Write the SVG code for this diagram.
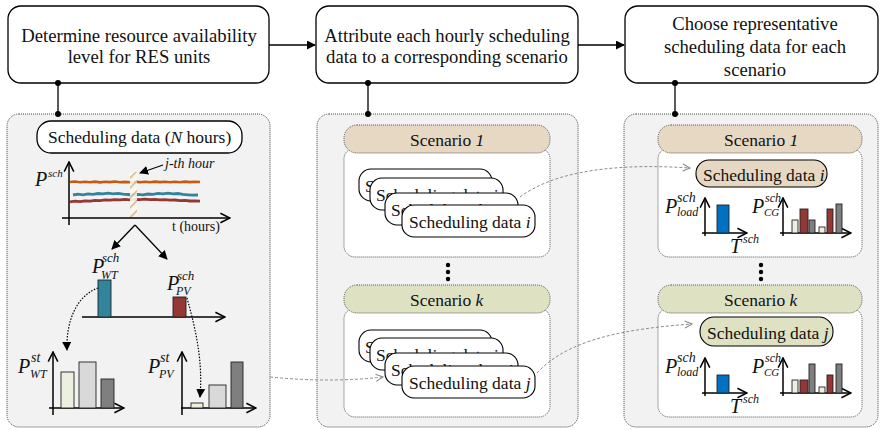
<svg xmlns="http://www.w3.org/2000/svg" width="881" height="430" viewBox="0 0 881 430">
<defs>
<style>
text{font-family:"Liberation Serif","Times New Roman",serif;fill:#111}
.t{font-size:18.7px;text-anchor:middle}
.m{font-size:17.5px}
.it{font-style:italic}
.box{fill:#fff;stroke:#000;stroke-width:1.3}
.panel{fill:#f2f2f2;stroke:#444;stroke-width:1;stroke-dasharray:1 1}
.hdr1{fill:#e6d8c2;stroke:#555;stroke-width:1;stroke-dasharray:1 1}
.hdrk{fill:#dee2c2;stroke:#555;stroke-width:1;stroke-dasharray:1 1}
.cont{fill:#fff;stroke:#555;stroke-width:1;stroke-dasharray:1 1}
.stk{fill:#fff;stroke:#000;stroke-width:1.1}
.ax{stroke:#000;stroke-width:1.5;fill:none;marker-end:url(#chev)}
.bar{stroke:#222;stroke-width:0.9}
.lg{fill:#ebf1de}.lgr{fill:#d9d9d9}.dg{fill:#7f7f7f}.rd{fill:#953735}.tl{fill:#31849b}.bl{fill:#0070c0}
.gd{fill:none;stroke:#8c8c8c;stroke-width:1;stroke-dasharray:3 2;marker-end:url(#gchev)}
.bd{fill:none;stroke:#000;stroke-width:1.2;stroke-dasharray:1.5 1.5;marker-end:url(#tri)}
.P{font-size:20px;font-style:italic}
.s{font-style:italic}
</style>
<marker id="tri" viewBox="0 0 10 10" refX="9" refY="5" markerWidth="9" markerHeight="9" markerUnits="userSpaceOnUse" orient="auto"><path d="M0,0 L10,5 L0,10 z" fill="#000"/></marker>
<marker id="chev" viewBox="0 0 10 10" refX="9" refY="5" markerWidth="12" markerHeight="12" markerUnits="userSpaceOnUse" orient="auto"><path d="M1,1 L9,5 L1,9" fill="none" stroke="#000" stroke-width="1.3"/></marker>
<marker id="gchev" viewBox="0 0 10 10" refX="9" refY="5" markerWidth="9" markerHeight="9" markerUnits="userSpaceOnUse" orient="auto"><path d="M1,1 L9,5 L1,9" fill="none" stroke="#8c8c8c" stroke-width="1.2"/></marker>
<pattern id="hatch" patternUnits="userSpaceOnUse" width="7" height="7" patternTransform="rotate(45)"><rect width="7" height="7" fill="#fbf7ef"/><line x1="0" y1="0" x2="0" y2="7" stroke="#c9ad7f" stroke-width="3"/></pattern>
</defs>

<!-- Panels -->
<g id="panel1">
<rect class="panel" x="7" y="114" width="263" height="313" rx="12"/>
<rect class="box" x="37" y="121" width="205" height="32" rx="14"/>
<text class="m" x="48" y="143">Scheduling data (<tspan class="it">N</tspan> hours)</text>
<g id="timeseries">
<polyline fill="none" stroke="#c55a11" stroke-width="2.6" points="70,182 75,181.5 80,182.3 85,181.7 90,182.2 95,181.6 100,182.4 105,181.8 110,182.1 115,181.5 120,182.3 125,181.9 130,182.2 135,181.6 140,182.3 145,181.8 150,182.2 155,181.6 160,182.1 165,181.7 170,182.3 175,181.8 180,182.2 185,181.6 190,182.1 195,181.8 200,182"/>
<polyline fill="none" stroke="#31849b" stroke-width="2.8" points="73,195 78,194.2 83,194.8 88,193.8 93,194.3 98,193.5 103,193.9 108,193.2 113,193.8 118,193.3 123,194.2 128,194.5 133,195 138,194.4 143,194.8 148,194 153,194.3 158,193.4 163,193.9 168,193.2 173,193.8 178,193.5 183,194.3 188,194.8 193,195.2 198,195"/>
<polyline fill="none" stroke="#953735" stroke-width="2.8" points="70,201.8 75,201.2 80,201.6 85,200.8 90,201.1 95,200.3 100,200.6 105,199.9 110,200.2 115,199.6 120,199.9 125,199.4 130,199.8 135,199.3 140,199.6 145,199.2 150,199.7 155,199.4 160,199.9 165,199.6 170,200.2 175,200 180,200.6 185,200.4 190,201 195,200.8 200,201.2"/>
<rect x="130" y="172" width="7" height="45" fill="url(#hatch)" opacity="0.9"/>
<line class="ax" x1="69" y1="225" x2="69" y2="162"/>
<line class="ax" x1="62" y1="218" x2="230" y2="218"/>
<text class="P" x="35" y="186">P</text><text class="s" x="48" y="177" font-size="11">sch</text>
<text class="s" x="165" y="168" font-size="14">j-th hour</text>
<text x="172" y="231" font-size="14">t (hours)</text>
</g>
<g id="sample">
<line class="ax" x1="82" y1="317" x2="225" y2="317"/>
<rect class="bar tl" x="98" y="280" width="13" height="37"/>
<rect class="bar rd" x="173" y="297" width="13" height="20"/>
<text class="P" x="92" y="273">P</text><text class="s" x="102" y="262" font-size="13">sch</text><text class="s" x="101" y="279" font-size="12">WT</text>
<text class="P" x="167" y="290">P</text><text class="s" x="177" y="280" font-size="13">sch</text><text class="s" x="176" y="295" font-size="12">PV</text>
</g>
<g id="wt-states">
<line class="ax" x1="53" y1="415" x2="53" y2="352"/>
<line class="ax" x1="49" y1="408" x2="124" y2="408"/>
<rect class="bar lg" x="61" y="372" width="13" height="36"/>
<rect class="bar lgr" x="79" y="362" width="17" height="46"/>
<rect class="bar dg" x="101" y="379" width="13" height="29"/>
<text class="P" x="18" y="373">P</text><text class="s" x="31" y="362" font-size="14">st</text><text class="s" x="30" y="378" font-size="12">WT</text>
</g>
<g id="pv-states">
<line class="ax" x1="182" y1="415" x2="182" y2="352"/>
<line class="ax" x1="181" y1="408" x2="256" y2="408"/>
<rect class="bar lg" x="191" y="403" width="12" height="5"/>
<rect class="bar lgr" x="209" y="385" width="17" height="23"/>
<rect class="bar dg" x="231" y="362" width="12" height="46"/>
<text class="P" x="148" y="373">P</text><text class="s" x="160" y="362" font-size="14">st</text><text class="s" x="159" y="378" font-size="12">PV</text>
</g>
</g>

<g id="panel2">
<rect class="panel" x="317" y="114" width="261" height="313" rx="12"/>
<g id="p2-scenario1">
<rect class="cont" x="344" y="148" width="206" height="109" rx="11"/>
<rect class="hdr1" x="344" y="125" width="206" height="28" rx="13"/>
<text class="m" x="410" y="146" font-size="17">Scenario <tspan class="it">1</tspan></text>
<rect class="stk" x="359" y="169" width="133" height="32" rx="12"/><text class="m" x="365" y="192">Scheduling data <tspan class="it">i</tspan></text>
<rect class="stk" x="370" y="178" width="133" height="32" rx="12"/><text class="m" x="376" y="201">Scheduling data <tspan class="it">i</tspan></text>
<rect class="stk" x="385" y="193" width="133" height="32" rx="12"/><text class="m" x="391" y="216">Scheduling data <tspan class="it">i</tspan></text>
<rect class="stk" x="402" y="205" width="133" height="32" rx="12"/><text class="m" x="409" y="228">Scheduling data <tspan class="it">i</tspan></text>
</g>
<g fill="#000"><circle cx="448" cy="265" r="2.2"/><circle cx="448" cy="272" r="2.2"/><circle cx="448" cy="279" r="2.2"/></g>
<g id="p2-scenariok">
<rect class="cont" x="344" y="308" width="206" height="109" rx="11"/>
<rect class="hdrk" x="344" y="285" width="206" height="28" rx="13"/>
<text class="m" x="410" y="306" font-size="17">Scenario <tspan class="it">k</tspan></text>
<rect class="stk" x="359" y="330" width="133" height="32" rx="12"/><text class="m" x="365" y="353">Scheduling data <tspan class="it">j</tspan></text>
<rect class="stk" x="370" y="338" width="133" height="32" rx="12"/><text class="m" x="376" y="361">Scheduling data <tspan class="it">j</tspan></text>
<rect class="stk" x="385" y="353" width="133" height="32" rx="12"/><text class="m" x="391" y="376">Scheduling data <tspan class="it">j</tspan></text>
<rect class="stk" x="402" y="366" width="133" height="32" rx="12"/><text class="m" x="409" y="389">Scheduling data <tspan class="it">j</tspan></text>
</g>
</g>

<g id="panel3">
<rect class="panel" x="624" y="114" width="254" height="313" rx="12"/>
<g id="p3-scenario1">
<rect class="cont" x="658" y="148" width="204" height="109" rx="11"/>
<rect class="hdr1" x="658" y="125" width="204" height="28" rx="13"/>
<text class="m" x="724" y="146" font-size="17">Scenario <tspan class="it">1</tspan></text>
<rect x="696" y="160" width="131" height="27" rx="13" fill="#e6d8c2" stroke="#000" stroke-width="1.1"/>
<text class="m" x="703" y="181">Scheduling data <tspan class="it">i</tspan></text>
<line class="ax" x1="705" y1="236" x2="705" y2="198"/>
<line class="ax" x1="702" y1="233" x2="747" y2="233"/>
<rect class="bar bl" x="717" y="205" width="12" height="28"/>
<text class="P" x="665" y="213">P</text><text class="s" x="677" y="202" font-size="14">sch</text><text class="s" x="677" y="216" font-size="12">load</text>
<text class="P" x="730" y="253">T</text><text class="s" x="743" y="243" font-size="12">sch</text>
<line class="ax" x1="783" y1="236" x2="783" y2="198"/>
<line class="ax" x1="780" y1="233" x2="851" y2="233"/>
<rect class="bar lg" x="792" y="220" width="6" height="13"/>
<rect class="bar rd" x="800" y="209" width="8" height="24"/>
<rect class="bar dg" x="809" y="220" width="6" height="13"/>
<rect class="bar lg" x="819" y="227" width="6" height="6"/>
<rect class="bar rd" x="827" y="209" width="6" height="24"/>
<rect class="bar dg" x="836" y="204" width="6" height="29"/>
<text class="P" x="752" y="213">P</text><text class="s" x="765" y="202" font-size="12">sch</text><text class="s" x="764" y="216" font-size="11">CG</text>
</g>
<g fill="#000"><circle cx="761" cy="265" r="2.2"/><circle cx="761" cy="272" r="2.2"/><circle cx="761" cy="279" r="2.2"/></g>
<g id="p3-scenariok">
<rect class="cont" x="658" y="308" width="204" height="109" rx="11"/>
<rect class="hdrk" x="658" y="285" width="204" height="28" rx="13"/>
<text class="m" x="724" y="306" font-size="17">Scenario <tspan class="it">k</tspan></text>
<rect x="700" y="317" width="133" height="29" rx="14" fill="#dee2c2" stroke="#000" stroke-width="1.1"/>
<text class="m" x="707" y="339">Scheduling data <tspan class="it">j</tspan></text>
<line class="ax" x1="705" y1="396" x2="705" y2="358"/>
<line class="ax" x1="702" y1="393" x2="747" y2="393"/>
<rect class="bar bl" x="717" y="375" width="12" height="18"/>
<text class="P" x="665" y="373">P</text><text class="s" x="677" y="362" font-size="14">sch</text><text class="s" x="677" y="376" font-size="12">load</text>
<text class="P" x="730" y="413">T</text><text class="s" x="743" y="403" font-size="12">sch</text>
<line class="ax" x1="783" y1="396" x2="783" y2="358"/>
<line class="ax" x1="780" y1="393" x2="851" y2="393"/>
<rect class="bar lg" x="792" y="380" width="6" height="13"/>
<rect class="bar rd" x="800" y="380" width="8" height="13"/>
<rect class="bar dg" x="809" y="364" width="6" height="29"/>
<rect class="bar lg" x="819" y="387" width="6" height="6"/>
<rect class="bar rd" x="827" y="375" width="6" height="18"/>
<rect class="bar dg" x="836" y="364" width="6" height="29"/>
<text class="P" x="752" y="373">P</text><text class="s" x="765" y="362" font-size="12">sch</text><text class="s" x="764" y="376" font-size="11">CG</text>
</g>
</g>

<!-- Step boxes -->
<g id="step1">
<rect class="box" x="8" y="6" width="261" height="77" rx="13"/>
<text class="t" x="139" y="41.5">Determine resource availability</text>
<text class="t" x="139" y="63">level for RES units</text>
</g>
<g id="step2">
<rect class="box" x="316" y="6" width="262" height="77" rx="13"/>
<text class="t" x="447" y="41.5">Attribute each hourly scheduling</text>
<text class="t" x="447" y="63">data to a corresponding scenario</text>
</g>
<g id="step3">
<rect class="box" x="625" y="6" width="253" height="77" rx="13"/>
<text class="t" x="755" y="30">Choose representative</text>
<text class="t" x="755" y="53">scheduling data for each</text>
<text class="t" x="755" y="76">scenario</text>
</g>

<!-- Connectors -->
<g id="connectors">
<line x1="269" y1="45" x2="315" y2="45" stroke="#000" stroke-width="1.3" marker-end="url(#tri)"/>
<line x1="578" y1="45" x2="624" y2="45" stroke="#000" stroke-width="1.3" marker-end="url(#tri)"/>
<g stroke="#000" stroke-width="1.3">
<line x1="58" y1="83" x2="58" y2="114"/>
<line x1="368" y1="83" x2="368" y2="114"/>
<line x1="675" y1="83" x2="675" y2="114"/>
</g>
<g fill="#000">
<circle cx="58" cy="83" r="3"/><circle cx="58" cy="114" r="3"/>
<circle cx="368" cy="83" r="3"/><circle cx="368" cy="114" r="3"/>
<circle cx="675" cy="83" r="3"/><circle cx="675" cy="114" r="3"/>
</g>
<line x1="163" y1="165" x2="140" y2="173" stroke="#000" stroke-width="1.1" marker-end="url(#tri)"/>
<line x1="135" y1="225" x2="112" y2="249" stroke="#000" stroke-width="1.3" marker-end="url(#tri)"/>
<line x1="135" y1="225" x2="167" y2="259" stroke="#000" stroke-width="1.3" marker-end="url(#tri)"/>
<path class="bd" d="M98,288 C76,296 66,322 67,350"/>
<path class="bd" d="M187,298 C196,330 203,362 200,397"/>
<path class="gd" d="M270,377 Q330,383 383,377"/>
<path class="gd" d="M520,197 C548,176 600,162 690,168"/>
<path class="gd" d="M537,373 C562,346 605,330 692,324"/>
</g>
</svg>
